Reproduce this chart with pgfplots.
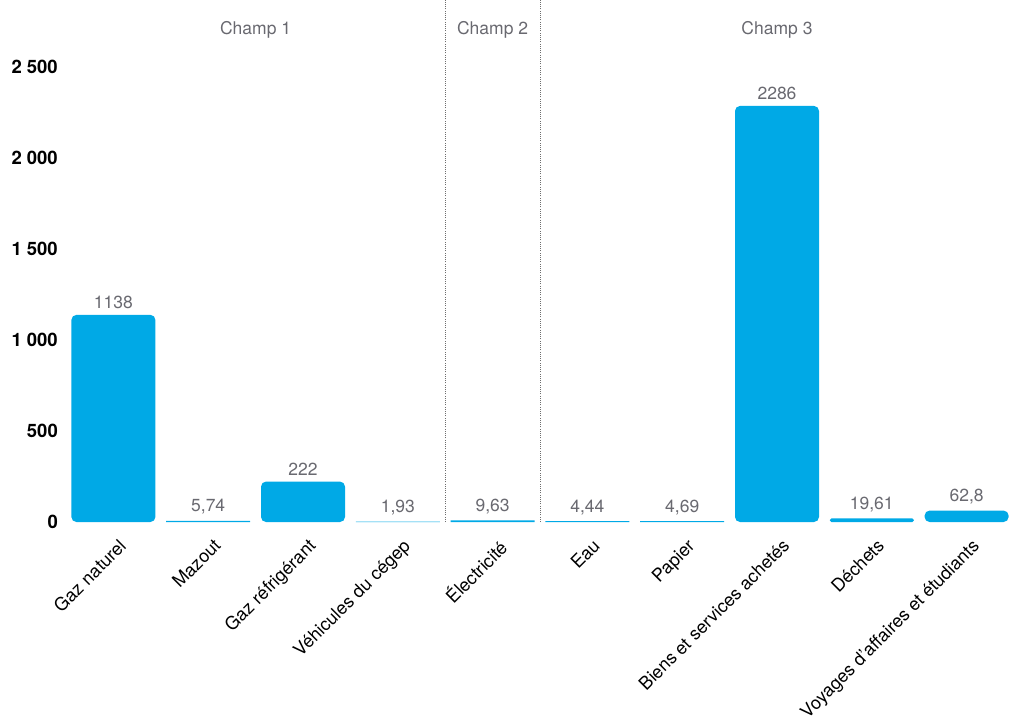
\documentclass[border=0pt]{standalone}
\usepackage{pgfplots}
\pgfplotsset{compat=1.18}
\usepackage{fontspec}
\setmainfont{TeX Gyre Heros}
\definecolor{barblue}{RGB}{0,169,230}
\definecolor{lbl}{RGB}{105,105,112}
\definecolor{sepc}{RGB}{110,110,110}
\pgfplotstableread{
x y lab
0 1138 1138
2 222 222
7 2286 2286
9 62.8 62,8
}\bigbars
\pgfplotstableread{
x y lab
8 19.61 19,61
}\midbars
\pgfplotstableread{
x y lab
1 5.74 5,74
3 1.93 1,93
4 9.63 9,63
5 4.44 4,44
6 4.69 4,69
}\smallbars
\begin{document}
\begin{tikzpicture}
\path[use as bounding box] (-66pt,-202pt) rectangle (958pt,522pt);
\begin{axis}[
  at={(0,0)}, anchor=south west,
  scale only axis, width=948pt, height=522pt,
  xmin=-0.5, xmax=9.5, ymin=0, ymax=2868,
  axis line style={draw=none},
  major tick length=0pt,
  xtick={0,...,9},
  xticklabels={Gaz naturel, Mazout, Gaz réfrigérant, Véhicules du cégep, Électricité, Eau, Papier, Biens et services achetés, Déchets, Voyages d\symbol{39}affaires et étudiants},
  xticklabel style={rotate=45, anchor=north east, font=\fontsize{18}{21}\selectfont, inner sep=0pt, yshift=-14pt, xshift=-8pt},
  ytick={0,500,1000,1500,2000,2500},
  yticklabel style={font=\fontsize{18.5}{21}\selectfont\bfseries, inner sep=0pt, xshift=-8pt},
  /pgf/number format/assume math mode=true,
  /pgf/number format/1000 sep={\ },
  clip=false,
  every axis plot/.append style={ybar, bar width=84pt, bar shift=0pt, fill=barblue, draw=none,
    nodes near coords, point meta=explicit symbolic,
    nodes near coords style={font=\fontsize{17.5}{19}\selectfont, color=lbl, anchor=south, yshift=3pt}},
]
\addplot[rounded corners=5pt] table[x=x, y=y, meta=lab] {\bigbars};
\addplot[rounded corners=1.5pt] table[x=x, y=y, meta=lab] {\midbars};
\addplot[sharp corners] table[x=x, y=y, meta=lab] {\smallbars};
\draw[sepc, line width=1pt, dash pattern=on 1pt off 1.2pt] (axis cs:3.5,0) -- (axis cs:3.5,2868);
\draw[sepc, line width=1pt, dash pattern=on 1pt off 1.2pt] (axis cs:4.5,0) -- (axis cs:4.5,2868);
\node[font=\fontsize{17.5}{20}\selectfont, color=lbl] at (axis cs:1.5,2703) {Champ 1};
\node[font=\fontsize{17.5}{20}\selectfont, color=lbl] at (axis cs:4,2703) {Champ 2};
\node[font=\fontsize{17.5}{20}\selectfont, color=lbl] at (axis cs:7,2703) {Champ 3};
\end{axis}
\end{tikzpicture}
\end{document}
